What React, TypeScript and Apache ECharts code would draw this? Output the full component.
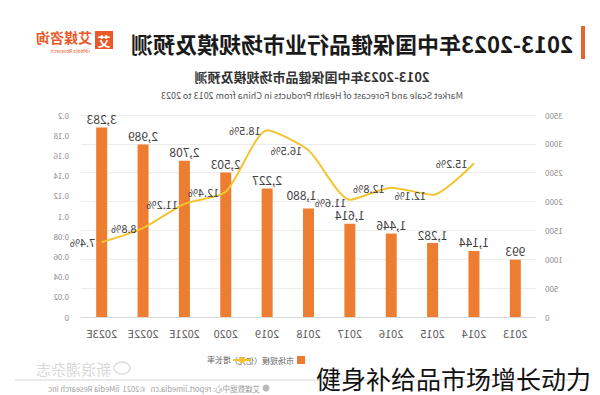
import React, { useEffect, useRef } from "react";
import * as echarts from "echarts";

const years = ["2013", "2014", "2015", "2016", "2017", "2018", "2019", "2020", "2021E", "2022E", "2023E"];
const marketScale = [993, 1144, 1282, 1446, 1614, 1880, 2227, 2503, 2708, 2989, 3283];
const growthRate = [null, 0.152, 0.121, 0.128, 0.116, 0.165, 0.185, 0.124, 0.112, 0.088, 0.074];
const scaleAxis = { min: 0, max: 3500, interval: 500 };
const rateAxis = { min: 0, max: 0.2, interval: 0.02 };
const seriesNames = ["市场规模（亿元）", "增长率"];
const titleText = "2013-2023年中国保健品行业市场规模及预测";
const subTitle = "2013-2023年中国保健品市场规模及预测";
const englishTitle = "Market Scale and Forecast of Health Products in China from 2013 to 2023";
const footerText = "艾媒数据中心: report.iimedia.cn   ©2021  iiMedia Research Inc";
const caption = "健身补给品市场增长动力";

const FONT = "'Noto Sans CJK SC', 'Noto Sans', sans-serif";

export default function App() {
  const ref = useRef<HTMLDivElement>(null);
  useEffect(() => {
    if (!ref.current) return;
    const chart = echarts.init(ref.current, null, { renderer: "svg" });
    const rateData = growthRate.map((v, i) =>
      i === 4 ? { value: v, label: { offset: [-3, 2] } } : v
    );
    const scaleData = marketScale.map((v, i) =>
      i === 5 ? { value: v, label: { offset: [7, -5] } } : v
    );
    chart.setOption({
      animation: false,
      backgroundColor: "#ffffff",
      textStyle: { fontFamily: FONT },
      grid: { left: 64, right: 81, top: 115, bottom: 78, containLabel: false },
      legend: [
        {
          left: 290,
          top: 351,
          itemWidth: 8,
          itemHeight: 8,
          itemGap: 4,
          data: [{ name: seriesNames[0], icon: "rect" }],
          textStyle: { fontSize: 8, color: "#666", padding: [0, 0, 0, -2] },
        },
        {
          left: 343,
          top: 351,
          itemWidth: 18,
          itemHeight: 8,
          data: [{ name: seriesNames[1] }],
          textStyle: { fontSize: 8, color: "#666", padding: [0, 0, 0, -3] },
        },
      ],
      xAxis: {
        type: "category",
        data: years,
        axisLine: { lineStyle: { color: "#d9d9d9" } },
        axisTick: { show: false },
        axisLabel: { color: "#595959", fontSize: 11, margin: 10 },
      },
      yAxis: [
        {
          type: "value",
          ...scaleAxis,
          axisLine: { show: false },
          axisTick: { show: false },
          axisLabel: { color: "#8c8c8c", fontSize: 8, margin: 9, formatter: (v: number) => String(v) },
          splitLine: { lineStyle: { color: "#ebebeb" } },
        },
        {
          type: "value",
          ...rateAxis,
          axisLine: { show: false },
          axisTick: { show: false },
          axisLabel: {
            color: "#8c8c8c",
            fontSize: 8,
            margin: 12,
            formatter: (v: number) => String(parseFloat(v.toFixed(2))),
          },
          splitLine: { show: false },
        },
      ],
      series: [
        {
          name: seriesNames[0],
          type: "bar",
          data: scaleData,
          barWidth: 11,
          itemStyle: { color: "#ED7D31" },
          label: {
            show: true,
            position: "top",
            distance: 3,
            color: "#404040",
            fontSize: 12,
            formatter: (p: any) => Number(p.value).toLocaleString("en-US"),
          },
        },
        {
          name: seriesNames[1],
          type: "line",
          yAxisIndex: 1,
          data: rateData,
          smooth: 0.22,
          symbol: "circle",
          symbolSize: 1,
          itemStyle: { color: "#F4C430" },
          lineStyle: { color: "#F4C430", width: 2 },
          label: {
            show: true,
            position: "right",
            distance: 6,
            color: "#404040",
            fontSize: 11,
            formatter: (p: any) => (p.value == null ? "" : (p.value * 100).toFixed(1) + "%"),
          },
        },
      ],
      graphic: [
        { type: "rect", shape: { x: 15, y: 26, width: 4, height: 33 }, style: { fill: "#E8642C" } },
        {
          type: "text",
          x: 27,
          y: 43,
          style: { text: titleText, font: `bold 22px ${FONT}`, fill: "#1a1a1a", verticalAlign: "middle" },
        },
        { type: "rect", shape: { x: 487, y: 31, width: 18, height: 18 }, style: { fill: "#E85A2A" } },
        {
          type: "text",
          x: 496,
          y: 40,
          style: { text: "艾", font: `bold 13px ${FONT}`, fill: "#fff", align: "center", verticalAlign: "middle" },
        },
        {
          type: "text",
          x: 508,
          y: 37,
          style: { text: "艾媒咨询", font: `bold 14px ${FONT}`, fill: "#E85A2A", verticalAlign: "middle" },
        },
        {
          type: "text",
          x: 510,
          y: 50,
          style: { text: "iiMedia Research", font: `5px ${FONT}`, fill: "#E85A2A", verticalAlign: "middle" },
        },
        {
          type: "text",
          x: 288,
          y: 76,
          style: { text: subTitle, font: `bold 13px ${FONT}`, fill: "#333", align: "center", verticalAlign: "middle" },
        },
        {
          type: "text",
          x: 288,
          y: 95,
          style: { text: englishTitle, font: `9px ${FONT}`, fill: "#555", align: "center", verticalAlign: "middle" },
        },
        { type: "ellipse", shape: { cx: 478, cy: 368, rx: 8, ry: 6 }, style: { fill: "none", stroke: "#dcdcdc", lineWidth: 1.5 } },
        {
          type: "text",
          x: 489,
          y: 368,
          style: { text: "新浪潮杂志", font: `15px ${FONT}`, fill: "#d9d9d9", verticalAlign: "middle" },
        },
        { type: "line", shape: { x1: 15, y1: 380, x2: 585, y2: 380 }, style: { stroke: "#d4d4d4", lineWidth: 1 } },
        { type: "circle", shape: { cx: 334, cy: 388, r: 3.5 }, style: { fill: "#bbb" } },
        {
          type: "text",
          x: 340,
          y: 388,
          style: { text: footerText, font: `7.5px ${FONT}`, fill: "#a0a0a0", verticalAlign: "middle" },
        },
        {
          type: "text",
          x: 284,
          y: 378,
          scaleX: -1,
          style: { text: caption, font: `25px ${FONT}`, fill: "#111", verticalAlign: "middle" },
        },
      ],
    });
    return () => chart.dispose();
  }, []);
  return (
    <div style={{ position: "fixed", left: 0, top: 0, width: 600, height: 395, background: "#fff" }}>
      <div ref={ref} style={{ width: 600, height: 395, transform: "scaleX(-1)" }} />
    </div>
  );
}
